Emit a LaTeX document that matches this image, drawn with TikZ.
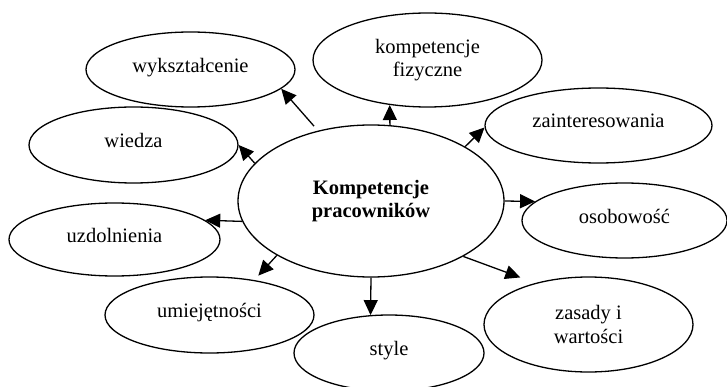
\documentclass[tikz,border=0pt]{standalone}
\usepackage{fontspec}
\setmainfont{Liberation Serif}
\usetikzlibrary{shapes.geometric,arrows.meta}

\begin{document}
\begin{tikzpicture}[x=1pt, y=-1pt,
      bubble/.style={ellipse, draw, line width=1.3pt, inner sep=0pt, align=center,
                     font=\fontsize{20.5}{23.5}\selectfont},
      oneline/.style={text depth=9pt},
      link/.style={-{Triangle[length=15pt, width=14pt]}, line width=1.3pt}]
    \useasboundingbox (0,0) rectangle (727,387);
    \node[bubble, minimum width=266pt, minimum height=152pt,
          font=\fontsize{20.5}{23.5}\selectfont\bfseries] (komp) at (371,201)
      {Kompetencje\\pracowników};
    \node[bubble, oneline, minimum width=209pt, minimum height=75pt] (wyk) at (190.5,69.5) {wykształcenie};
    \node[bubble, minimum width=229pt, minimum height=94pt] (fiz) at (427.5,60) {kompetencje\\fizyczne};
    \node[bubble, oneline, minimum width=227pt, minimum height=75pt] (zain) at (598.5,125.5) {zainteresowania};
    \node[bubble, oneline, minimum width=209pt, minimum height=76pt] (wied) at (133.5,145) {wiedza};
    \node[bubble, oneline, minimum width=205pt, minimum height=75pt] (oso) at (624.5,220.5) {osobowość};
    \node[bubble, oneline, minimum width=211pt, minimum height=73pt] (uzd) at (114.5,239.5) {uzdolnienia};
    \node[bubble, oneline, minimum width=209pt, minimum height=76pt] (umi) at (209.5,315) {umiejętności};
    \node[bubble, minimum width=209pt, minimum height=95pt] (zas) at (588.5,324.5) {zasady i\\wartości};
    \node[bubble, oneline, minimum width=190pt, minimum height=76pt] (sty) at (389,353) {style};
    % arrows out of the centre
    \draw[link, shorten <=6pt] (komp.127) -- (wyk.-12);
    \draw[link] (komp.162) -- (wied.0);
    \draw[link] (komp.76) -- (fiz.-130);
    \draw[link] (komp.30) -- (zain.181);
    \draw[link] (komp.0) -- (oso.168);
    \draw[link, shorten >=16pt] (komp.-31) -- (zas.142);
    \draw[link] (komp.-90) -- (sty.116);
    \draw[link, shorten >=6pt] (komp.-150) -- (umi.38);
    \draw[link] (komp.-171) -- (uzd.12);
  \end{tikzpicture}
\end{document}
